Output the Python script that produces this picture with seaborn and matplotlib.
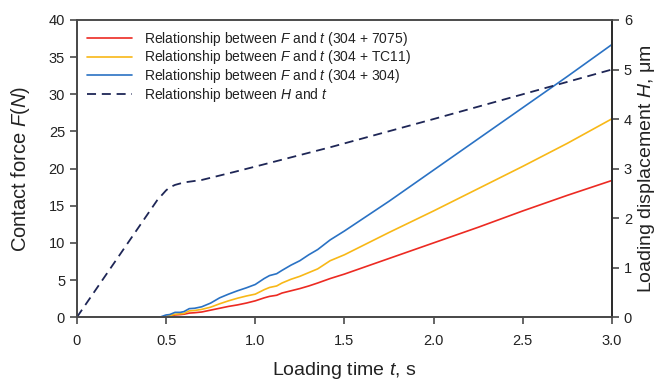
import matplotlib
matplotlib.use("Agg")
import matplotlib.pyplot as plt
import seaborn as sns
import pandas as pd
from matplotlib.lines import Line2D

# ---- data ----
t_F = [0, 0.45, 0.47, 0.50, 0.52, 0.55, 0.58, 0.60, 0.63, 0.66, 0.70, 0.75, 0.80,
       0.85, 0.90, 0.95, 1.00, 1.05, 1.08, 1.12, 1.15, 1.20, 1.25, 1.30, 1.35,
       1.42, 1.50, 1.75, 2.00, 2.25, 2.50, 2.75, 3.00]
F_7075 = [0, 0, 0, 0.05, 0.15, 0.3, 0.35, 0.4, 0.55, 0.6, 0.7, 0.95, 1.2, 1.45,
          1.65, 1.9, 2.2, 2.6, 2.8, 2.95, 3.25, 3.55, 3.85, 4.2, 4.6, 5.2, 5.8,
          7.9, 10.0, 12.1, 14.3, 16.4, 18.4]
F_TC11 = [0, 0, 0, 0.1, 0.2, 0.4, 0.45, 0.5, 0.85, 0.9, 1.05, 1.35, 1.8, 2.2,
          2.55, 2.85, 3.1, 3.7, 4.0, 4.2, 4.6, 5.1, 5.5, 6.0, 6.5, 7.6, 8.4,
          11.4, 14.3, 17.3, 20.3, 23.4, 26.7]
F_304 = [0, 0, 0.05, 0.3, 0.35, 0.65, 0.65, 0.75, 1.15, 1.2, 1.4, 1.9, 2.6, 3.1,
         3.55, 3.95, 4.4, 5.2, 5.6, 5.85, 6.3, 7.0, 7.6, 8.4, 9.1, 10.4, 11.6,
         15.6, 19.8, 24.0, 28.2, 32.4, 36.7]
t_H = [0, 0.45, 0.48, 0.50, 0.52, 0.55, 0.60, 0.70, 0.88, 1.00, 1.42, 2.00, 2.50, 3.00]
H = [0, 2.36, 2.48, 2.56, 2.62, 2.67, 2.72, 2.77, 2.93, 3.04, 3.43, 4.00, 4.50, 5.00]

x_ticks = [0, 0.5, 1.0, 1.5, 2.0, 2.5, 3.0]
x_ticklabels = ["0", "0.5", "1.0", "1.5", "2.0", "2.5", "3.0"]
yl_ticks = [0, 5, 10, 15, 20, 25, 30, 35, 40]
yr_ticks = [0, 1, 2, 3, 4, 5, 6]

labels = [r"Relationship between $F$ and $t$ (304 + 7075)",
          r"Relationship between $F$ and $t$ (304 + TC11)",
          r"Relationship between $F$ and $t$ (304 + 304)",
          r"Relationship between $H$ and $t$"]
colors = ["#ec2a22", "#f8b817", "#2a72c4", "#1e2656"]

# ---- style ----
sns.set_theme(style="ticks")
plt.rcParams["font.family"] = ["Liberation Sans", "DejaVu Sans"]
plt.rcParams["mathtext.fontset"] = "custom"
plt.rcParams["mathtext.rm"] = "Liberation Sans"
plt.rcParams["mathtext.it"] = "Liberation Sans:italic"
plt.rcParams["mathtext.default"] = "it"

fig = plt.figure(figsize=(6.63, 3.84), dpi=100)
ax = fig.add_axes([0.116, 0.174, 0.807, 0.774])
ax2 = ax.twinx()

df = pd.DataFrame({"t": t_F * 3,
                   "F": F_7075 + F_TC11 + F_304,
                   "series": [labels[0]] * len(t_F) + [labels[1]] * len(t_F) + [labels[2]] * len(t_F)})
sns.lineplot(data=df, x="t", y="F", hue="series", palette=colors[:3], ax=ax,
             linewidth=1.2, legend=False, sort=False)
dfH = pd.DataFrame({"t": t_H, "H": H})
sns.lineplot(data=dfH, x="t", y="H", ax=ax2, color=colors[3], linewidth=1.3,
             linestyle=(0, (5, 3.2)), legend=False, sort=False)

ax.set_xlim(0, 3.0)
ax.set_ylim(0, 40)
ax2.set_ylim(0, 6)
ax.set_xticks(x_ticks)
ax.set_xticklabels(x_ticklabels)
ax.set_yticks(yl_ticks)
ax2.set_yticks(yr_ticks)

spine_c = "#4a4a4a"
for a in (ax, ax2):
    for s in a.spines.values():
        s.set_color(spine_c)
        s.set_linewidth(1.3)
    a.tick_params(direction="out", length=5, width=1.2, color=spine_c,
                  labelsize=10.5, labelcolor="#222222")
ax.spines["top"].set_color("#777777")
ax2.spines["right"].set_color("#2a2a2a")
ax.tick_params(axis="x", pad=7)

ax.set_xlabel(r"Loading time $t$, s", fontsize=14, color="#222222", labelpad=9)
ax.set_ylabel(r"Contact force $F$($N$)", fontsize=14.5, color="#222222", labelpad=12)
ax2.set_ylabel(r"Loading displacement $H$, μm", fontsize=14, color="#222222", labelpad=3)

handles = [Line2D([0], [0], color=colors[0], lw=1.2),
           Line2D([0], [0], color=colors[1], lw=1.2),
           Line2D([0], [0], color=colors[2], lw=1.2),
           Line2D([0], [0], color=colors[3], lw=1.3, linestyle=(0, (5, 3.2)))]
ax.legend(handles, labels, loc="upper left", frameon=False, fontsize=10,
          handlelength=3.3, labelspacing=0.05, borderaxespad=0.3,
          bbox_to_anchor=(0.0, 1.0), labelcolor="#222222")

fig.savefig("out.png", dpi=100)
